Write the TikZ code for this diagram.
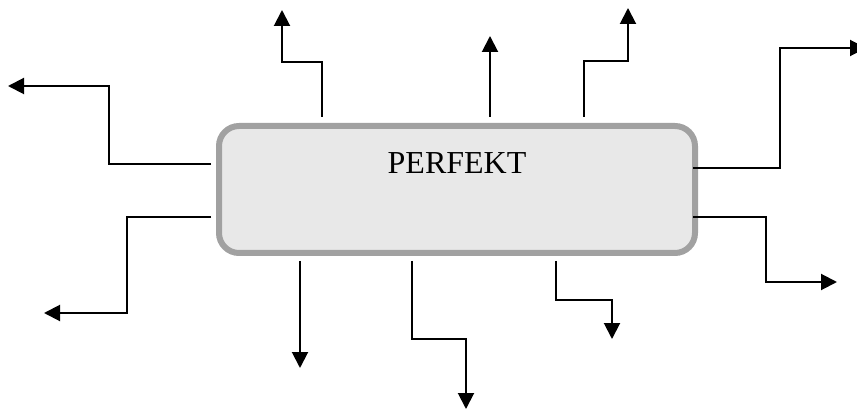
\documentclass[tikz,border=0pt]{standalone}
\usepackage{fontspec}
\setmainfont{Liberation Serif}
\usetikzlibrary{arrows.meta, calc, positioning}

\begin{document}
\begin{tikzpicture}[x=1pt, y=-1pt,
        procbox/.style={draw=black!37, fill=black!9, line width=6pt, rounded corners=20pt, minimum width=476pt, minimum height=127pt},
        flow/.style={line width=2pt, -{Triangle[width=16pt, length=16pt]}}]
                        \useasboundingbox (0, 0) rectangle (857, 414);

                        \node[procbox] (perf) at (457, 189.5) {};
                        \node[font=\fontsize{32}{38}\selectfont] (title) at (457, 163.3) {PERFEKT};

                        % arrow tips
                        \coordinate (tA) at (282, 10);
                        \coordinate (tB) at (490, 36);
                        \coordinate (tC) at (628, 8);
                        \coordinate (tD) at (8, 86);
                        \coordinate (tE) at (44, 313);
                        \coordinate (tF) at (866, 48);
                        \coordinate (tG) at (837, 282);
                        \coordinate (tH) at (300, 368);
                        \coordinate (tI) at (466, 409);
                        \coordinate (tJ) at (612, 339);

                        % top
                        \draw[flow] ($(perf.north)+(-135, -6)$) -- (322, 62) -- (282, 62) -- (tA);
                        \draw[flow] ($(perf.north)+(33, -6)$) -- (tB);
                        \draw[flow] ($(perf.north)+(127, -6)$) -- (584, 61) -- (628, 61) -- (tC);

                        % left
                        \draw[flow] ($(perf.west)+(-5, -25.5)$) -- (109, 164) -- (109, 86) -- (tD);
                        \draw[flow] ($(perf.west)+(-5, 27.5)$) -- (127, 217) -- (127, 313) -- (tE);

                        % right
                        \draw[flow] ($(perf.east)+(-5, -21.5)$) -- (780, 168) -- (780, 48) -- (tF);
                        \draw[flow] ($(perf.east)+(-5, 27.5)$) -- (766, 217) -- (766, 282) -- (tG);

                        % bottom
                        \draw[flow] ($(perf.south)+(-157, 5)$) -- (tH);
                        \draw[flow] ($(perf.south)+(-45, 5)$) -- (412, 339) -- (466, 339) -- (tI);
                        \draw[flow] ($(perf.south)+(99, 5)$) -- (556, 300) -- (612, 300) -- (tJ);
                    \end{tikzpicture}
\end{document}
